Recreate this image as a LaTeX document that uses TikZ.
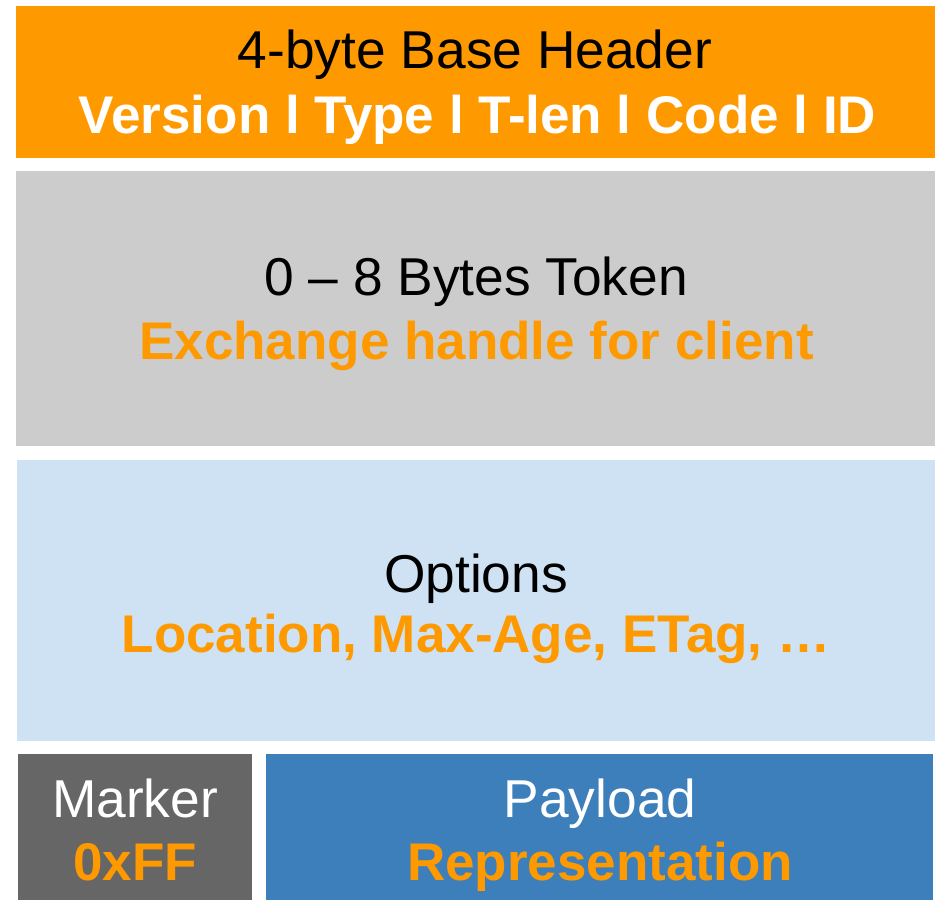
\documentclass[tikz,border=0pt]{standalone}
\usepackage{fontspec}
\setmainfont{Liberation Sans}
\definecolor{corange}{HTML}{FF9900}
\definecolor{cgray}{HTML}{CCCCCC}
\definecolor{cblue}{HTML}{CFE2F3}
\definecolor{cdark}{HTML}{666666}
\definecolor{cpay}{HTML}{3D7FBA}
\tikzset{
  txt/.style={inner sep=0pt, anchor=base, font=\fontsize{53.3}{60}\selectfont},
  btxt/.style={inner sep=0pt, anchor=base, font=\fontsize{53}{60}\selectfont\bfseries},
}
\begin{document}
\begin{tikzpicture}[x=1pt,y=-1pt]
\useasboundingbox (0,0) rectangle (940,900);
\fill[white] (0,0) rectangle (940,900);
\fill[corange] (16,6) rectangle (935,158);
\fill[cgray] (16,171) rectangle (935,446);
\fill[cblue] (17,460) rectangle (935,741);
\fill[cdark] (18,754) rectangle (252,900);
\fill[cpay] (266,754) rectangle (933,900);
\node[txt, text=black] (h1) at (475,68) {4-byte Base Header};
\node[btxt, text=white] (h2) at (477.5,133) {Version l Type l T-len l Code l ID};
\node[txt, text=black] (t1) at (476,295) {0 – 8 Bytes Token};
\node[btxt, text=corange] (t2) at (476.5,359) {Exchange handle for client};
\node[txt, text=black] (o1) at (476,592) {Options};
\node[btxt, text=corange] (o2) at (476,652) {Location, Max-Age, ETag, …};
\node[txt, text=white] (m1) at (135,817) {Marker};
\node[btxt, text=corange] (m2) at (135,880) {0xFF};
\node[txt, text=white] (p1) at (600,817) {Payload};
\node[btxt, text=corange] (p2) at (600,880) {Representation};
\end{tikzpicture}
\end{document}
